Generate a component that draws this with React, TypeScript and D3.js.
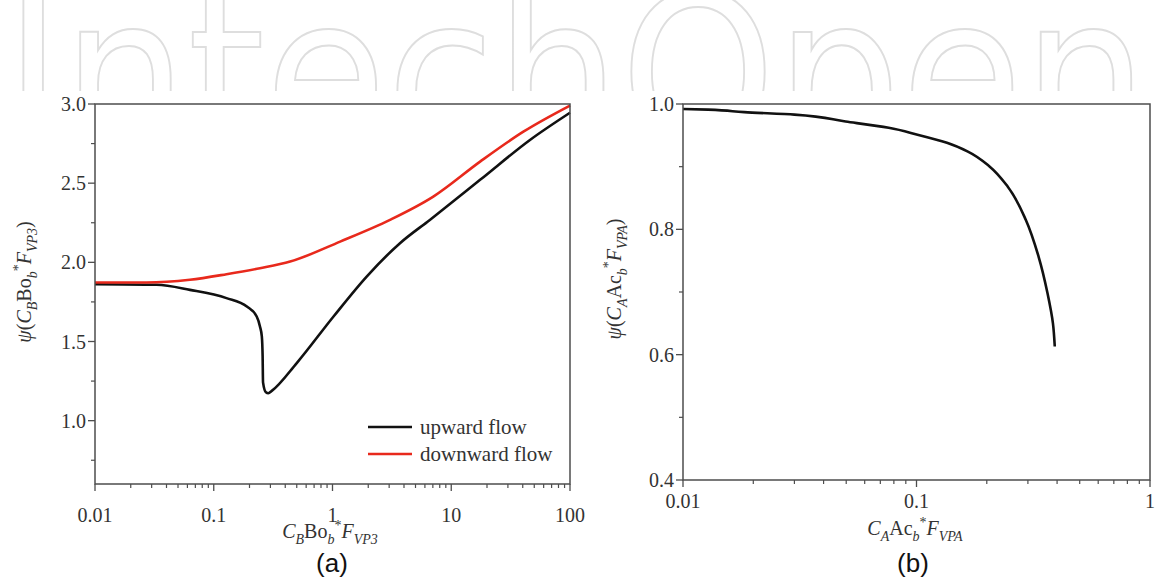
import React from 'react';
import * as d3 from 'd3';

const W = 1166;
const H = 581;

// ---------- Panel (a) data ----------
const upX = [0.01, 0.033, 0.063, 0.128, 0.19, 0.23, 0.245, 0.254, 0.258, 0.26, 0.275, 0.288, 0.308, 0.5, 1.02, 1.94, 3.7, 6.6, 17.5, 46, 100];
const upY = [1.862, 1.858, 1.826, 1.774, 1.721, 1.658, 1.595, 1.532, 1.406, 1.242, 1.179, 1.173, 1.188, 1.364, 1.658, 1.91, 2.121, 2.268, 2.521, 2.773, 2.945];
const downX = [0.01, 0.027, 0.063, 0.128, 0.245, 0.44, 1.16, 3.05, 7.06, 17.5, 40.5, 100];
const downY = [1.873, 1.873, 1.89, 1.925, 1.963, 2.005, 2.131, 2.268, 2.415, 2.636, 2.825, 2.99];

const aXTicks = [0.01, 0.1, 1, 10, 100];
const aXLabels = ['0.01', '0.1', '1', '10', '100'];
const aYTicks = [1.0, 1.5, 2.0, 2.5, 3.0];
const aYLabels = ['1.0', '1.5', '2.0', '2.5', '3.0'];
const aYMinor = [0.75, 1.25, 1.75, 2.25, 2.75];
const legendLabels = ['upward flow', 'downward flow'];

// ---------- Panel (b) data ----------
const bX = [0.01, 0.0128, 0.0183, 0.03, 0.0497, 0.076, 0.101, 0.135, 0.166, 0.206, 0.246, 0.294, 0.333, 0.364, 0.384, 0.391];
const bY = [0.992, 0.991, 0.987, 0.983, 0.972, 0.962, 0.951, 0.938, 0.924, 0.9, 0.868, 0.815, 0.757, 0.698, 0.65, 0.613];

const bXTicks = [0.01, 0.1, 1];
const bXLabels = ['0.01', '0.1', '1'];
const bYTicks = [0.4, 0.6, 0.8, 1.0];
const bYLabels = ['0.4', '0.6', '0.8', '1.0'];
const bYMinor = [0.5, 0.7, 0.9];

const SERIF = '"Liberation Serif", "Times New Roman", serif';
const SANS = '"Liberation Sans", Arial, sans-serif';
const AXIS = '#4d4d4d';
const TXT = '#333333';

type Seg = { t: string; it?: boolean; pos?: 'sub' | 'sup' };

function rich(segs: Seg[], size: number, subSize: number) {
  let cur = 0;
  return segs.map((s, i) => {
    const target = s.pos === 'sub' ? size * 0.32 : s.pos === 'sup' ? -size * 0.42 : 0;
    const dy = target - cur;
    cur = target;
    return (
      <tspan key={i} dy={dy} fontStyle={s.it ? 'italic' : 'normal'} fontSize={s.pos ? subSize : size}>
        {s.t}
      </tspan>
    );
  });
}

const aTitle: Seg[] = [
  { t: 'C', it: true }, { t: 'B', it: true, pos: 'sub' }, { t: 'Bo' }, { t: 'b', it: true, pos: 'sub' },
  { t: '*', pos: 'sup' }, { t: 'F', it: true }, { t: 'VP3', it: true, pos: 'sub' },
];
const aYTitle: Seg[] = [{ t: 'ψ', it: true }, { t: '(' }, ...aTitle, { t: ')' }];
const bTitle: Seg[] = [
  { t: 'C', it: true }, { t: 'A', it: true, pos: 'sub' }, { t: 'Ac' }, { t: 'b', it: true, pos: 'sub' },
  { t: '*', pos: 'sup' }, { t: 'F', it: true }, { t: 'VPA', it: true, pos: 'sub' },
];
const bYTitle: Seg[] = [{ t: 'ψ', it: true }, { t: '(' }, ...bTitle, { t: ')' }];

type PanelProps = {
  x0: number; x1: number; y0: number; y1: number;
  xDomain: [number, number]; yDomain: [number, number];
  xTicks: number[]; xLabels: string[]; yTicks: number[]; yLabels: string[]; yMinor: number[];
  xLabelDy: number;
};

function Frame(p: PanelProps & { children?: React.ReactNode }) {
  const xs = d3.scaleLog().domain(p.xDomain).range([p.x0, p.x1]);
  const ys = d3.scaleLinear().domain(p.yDomain).range([p.y1, p.y0]);
  const minorX = xs.ticks().filter((v) => !p.xTicks.some((t) => Math.abs(t - v) / t < 1e-6));
  return (
    <g>
      {p.children}
      <rect x={p.x0} y={p.y0} width={p.x1 - p.x0} height={p.y1 - p.y0} fill="none" stroke={AXIS} strokeWidth={1.5} />
      {p.xTicks.map((t, i) => (
        <g key={'xt' + i}>
          <line x1={xs(t)} x2={xs(t)} y1={p.y1} y2={p.y1 + 7} stroke={AXIS} strokeWidth={1.3} />
          <text x={xs(t)} y={p.y1 + p.xLabelDy} textAnchor="middle" fontFamily={SERIF} fontSize={20} fill={TXT}>
            {p.xLabels[i]}
          </text>
        </g>
      ))}
      {minorX.map((t, i) => (
        <line key={'xm' + i} x1={xs(t)} x2={xs(t)} y1={p.y1} y2={p.y1 + 4} stroke={AXIS} strokeWidth={1.2} />
      ))}
      {p.yTicks.map((t, i) => (
        <g key={'yt' + i}>
          <line x1={p.x0 - 7} x2={p.x0} y1={ys(t)} y2={ys(t)} stroke={AXIS} strokeWidth={1.3} />
          <text x={p.x0 - 9} y={ys(t) + 7} textAnchor="end" fontFamily={SERIF} fontSize={20} fill={TXT}>
            {p.yLabels[i]}
          </text>
        </g>
      ))}
      {p.yMinor.map((t, i) => (
        <line key={'ym' + i} x1={p.x0 - 4} x2={p.x0} y1={ys(t)} y2={ys(t)} stroke={AXIS} strokeWidth={1.2} />
      ))}
    </g>
  );
}

export default function App() {
  const A = { x0: 95, x1: 570, y0: 104, y1: 484 };
  const B = { x0: 683, x1: 1150, y0: 104, y1: 480 };

  const axs = d3.scaleLog().domain([0.01, 100]).range([A.x0, A.x1]);
  const ays = d3.scaleLinear().domain([0.6, 3.0]).range([A.y1, A.y0]);
  const bxs = d3.scaleLog().domain([0.01, 1]).range([B.x0, B.x1]);
  const bys = d3.scaleLinear().domain([0.4, 1.0]).range([B.y1, B.y0]);

  const upD = d3.line().curve(d3.curveMonotoneX)(upX.map((x, i) => [axs(x), ays(upY[i])] as [number, number]));
  const downD = d3.line().curve(d3.curveMonotoneX)(downX.map((x, i) => [axs(x), ays(downY[i])] as [number, number]));
  const bPath = d3.line().curve(d3.curveMonotoneY)(bX.map((x, i) => [bxs(x), bys(bY[i])] as [number, number]));

  return (
    <svg width={W} height={H} viewBox={`0 0 ${W} ${H}`} style={{ position: 'absolute', left: 0, top: 0, background: '#fff' }}>
      <defs>
        <clipPath id="wm">
          <rect x={0} y={0} width={W} height={91} />
          <rect x={0} y={0} width={13} height={152} />
          <rect x={1153} y={0} width={13} height={152} />
        </clipPath>
        <clipPath id="clipA">
          <rect x={A.x0} y={A.y0 - 2} width={A.x1 - A.x0 + 2} height={A.y1 - A.y0 + 2} />
        </clipPath>
      </defs>
      <rect x={0} y={0} width={W} height={H} fill="#fff" />
      <g clipPath="url(#wm)">
        <text x={4} y={150} fontFamily='"DejaVu Sans", sans-serif' fontSize={215} fill="#fff" stroke="#dedede" strokeWidth={2}
          textLength={1144} lengthAdjust="spacingAndGlyphs">
          IntechOpen
        </text>
      </g>

      {/* Panel (a) */}
      <Frame {...A} xDomain={[0.01, 100]} yDomain={[0.6, 3.0]} xTicks={aXTicks} xLabels={aXLabels}
        yTicks={aYTicks} yLabels={aYLabels} yMinor={aYMinor} xLabelDy={38}>
        <g clipPath="url(#clipA)">
          <path d={upD || ''} fill="none" stroke="#111" strokeWidth={2.6} strokeLinejoin="round" />
          <path d={downD || ''} fill="none" stroke="#e8291c" strokeWidth={2.6} strokeLinejoin="round" />
        </g>
      </Frame>
      {/* legend */}
      <line x1={368} x2={412} y1={427} y2={427} stroke="#111" strokeWidth={2.6} />
      <text x={420} y={434} fontFamily={SERIF} fontSize={21} fill={TXT}>{legendLabels[0]}</text>
      <line x1={368} x2={412} y1={454} y2={454} stroke="#e8291c" strokeWidth={2.6} />
      <text x={420} y={461} fontFamily={SERIF} fontSize={21} fill={TXT}>{legendLabels[1]}</text>

      <text x={330} y={538} textAnchor="middle" fontFamily={SERIF} fill={TXT}>{rich(aTitle, 20, 14)}</text>
      <text transform="translate(31,282) rotate(-90)" textAnchor="middle" fontFamily={SERIF} fill={TXT}>{rich(aYTitle, 20, 14)}</text>
      <text x={332} y={572} textAnchor="middle" fontFamily={SANS} fontSize={26} fill="#111">(a)</text>

      {/* Panel (b) */}
      <Frame {...B} xDomain={[0.01, 1]} yDomain={[0.4, 1.0]} xTicks={bXTicks} xLabels={bXLabels}
        yTicks={bYTicks} yLabels={bYLabels} yMinor={bYMinor} xLabelDy={28}>
        <path d={bPath || ''} fill="none" stroke="#111" strokeWidth={2.6} strokeLinejoin="round" />
      </Frame>
      <text x={915} y={535} textAnchor="middle" fontFamily={SERIF} fill={TXT}>{rich(bTitle, 20, 14)}</text>
      <text transform="translate(621,279) rotate(-90)" textAnchor="middle" fontFamily={SERIF} fill={TXT}>{rich(bYTitle, 20, 14)}</text>
      <text x={913} y={572} textAnchor="middle" fontFamily={SANS} fontSize={26} fill="#111">(b)</text>
    </svg>
  );
}
